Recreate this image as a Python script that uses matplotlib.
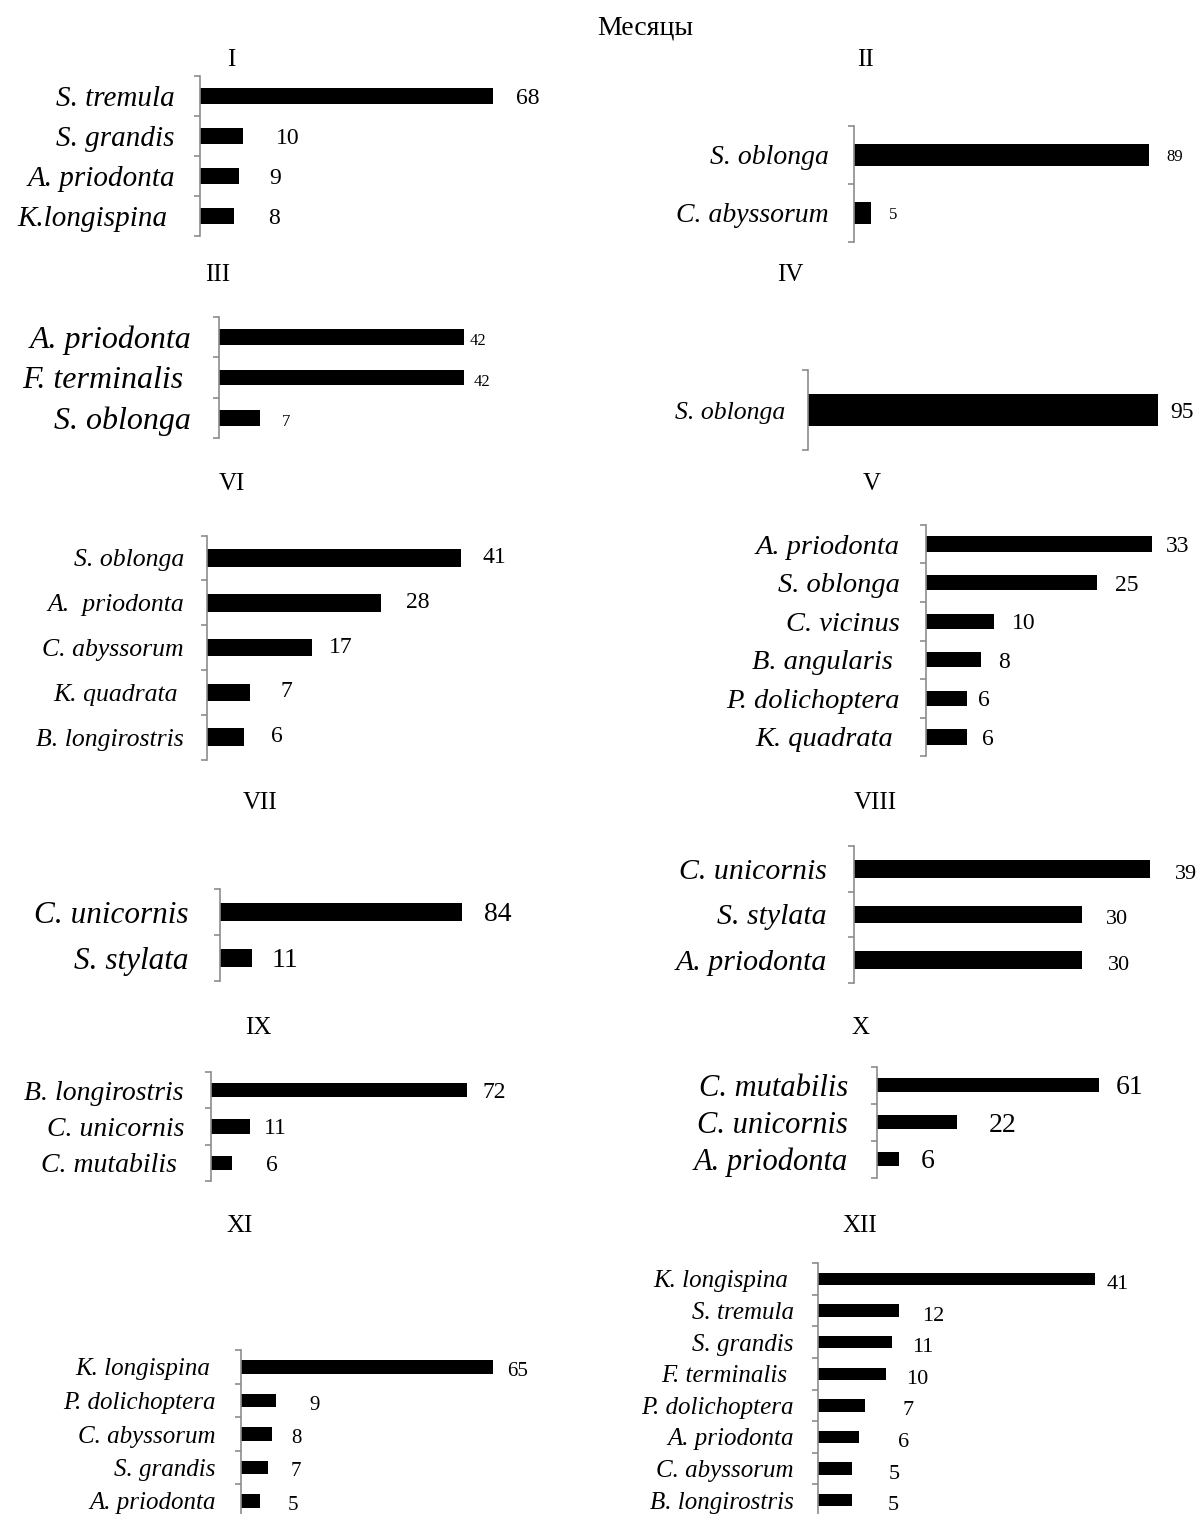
# Доминирующие виды зоопланктона по месяцам (горизонтальные столбцы)
import matplotlib
matplotlib.use('Agg')
import matplotlib.pyplot as plt

plt.rcParams['font.family'] = ['Liberation Serif', 'DejaVu Serif']

W, H = 1200, 1514
main_title = 'Месяцы'

# данные по месяцам: виды и доли, %
sp_I = ['S. tremula', 'S. grandis', 'A. priodonta', 'K.longispina ']
val_I = [68, 10, 9, 8]
sp_II = ['S. oblonga', 'C. abyssorum']
val_II = [89, 5]
sp_III = ['A. priodonta', 'F. terminalis ', 'S. oblonga']
val_III = [42, 42, 7]
sp_IV = ['S. oblonga']
val_IV = [95]
sp_VI = ['S. oblonga', 'A.  priodonta', 'C. abyssorum', 'K. quadrata ', 'B. longirostris']
val_VI = [41, 28, 17, 7, 6]
sp_V = ['A. priodonta', 'S. oblonga', 'C. vicinus', 'B. angularis ', 'P. dolichoptera', 'K. quadrata ']
val_V = [33, 25, 10, 8, 6, 6]
sp_VII = ['C. unicornis', 'S. stylata']
val_VII = [84, 11]
sp_VIII = ['C. unicornis', 'S. stylata', 'A. priodonta']
val_VIII = [39, 30, 30]
sp_IX = ['B. longirostris', 'C. unicornis', 'C. mutabilis ']
val_IX = [72, 11, 6]
sp_X = ['C. mutabilis', 'C. unicornis', 'A. priodonta']
val_X = [61, 22, 6]
sp_XI = ['K. longispina ', 'P. dolichoptera', 'C. abyssorum', 'S. grandis', 'A. priodonta']
val_XI = [65, 9, 8, 7, 5]
sp_XII = ['K. longispina ', 'S. tremula', 'S. grandis', 'F. terminalis ', 'P. dolichoptera',
          'A. priodonta', 'C. abyssorum', 'B. longirostris']
val_XII = [41, 12, 11, 10, 7, 6, 5, 5]

# оформление: ось x, центр первого столбца, шаг, пикс. на единицу, шрифты, отступы (в пикселях)
panels = [
    dict(t='I', tx=231, ty=60, names=sp_I, vals=val_I, x0=200, yc=96, step=40, ppu=4.31,
         fn=21, fv=17, pad=25, gap=[23, 33, 30, 34], dy=0),
    dict(t='II', tx=865, ty=60, names=sp_II, vals=val_II, x0=854, yc=155, step=58, ppu=3.31,
         fn=20, fv=12, pad=25, gap=[18, 18], dy=0),
    dict(t='III', tx=218, ty=275, names=sp_III, vals=val_III, x0=219, yc=337, step=40.5, ppu=5.83,
         fn=23, fv=12, pad=28, gap=[6, 10, 22], dy=2),
    dict(t='IV', tx=790, ty=275, names=sp_IV, vals=val_IV, x0=808, yc=410, step=80, ppu=3.68,
         fn=18.5, fv=17, pad=23, gap=[13], dy=0),
    dict(t='VI', tx=232, ty=484, names=sp_VI, vals=val_VI, x0=207, yc=558, step=44.8, ppu=6.2,
         fn=18.5, fv=17, pad=23, gap=[21, 25, 17, 30, 27], dy=-3),
    dict(t='V', tx=872, ty=484, names=sp_V, vals=val_V, x0=926, yc=544, step=38.6, ppu=6.85,
         fn=20.5, fv=17, pad=26, gap=[14, 18, 17, 17, 11, 15], dy=0),
    dict(t='VII', tx=260, ty=803, names=sp_VII, vals=val_VII, x0=220, yc=912, step=46, ppu=2.88,
         fn=22.5, fv=20, pad=31, gap=[22, 20], dy=0),
    dict(t='VIII', tx=875, ty=803, names=sp_VIII, vals=val_VIII, x0=854, yc=869, step=45.5, ppu=7.6,
         fn=21.5, fv=16, pad=27, gap=[25, 24, 26], dy=3),
    dict(t='IX', tx=258, ty=1028, names=sp_IX, vals=val_IX, x0=211, yc=1090, step=36.5, ppu=3.56,
         fn=20, fv=17, pad=27, gap=[15, 14, 34], dy=0),
    dict(t='X', tx=860, ty=1028, names=sp_X, vals=val_X, x0=877, yc=1085, step=37, ppu=3.64,
         fn=22, fv=20, pad=29, gap=[17, 32, 22], dy=0),
    dict(t='XI', tx=240, ty=1226, names=sp_XI, vals=val_XI, x0=241, yc=1367, step=33.5, ppu=3.88,
         fn=18, fv=15, pad=25, gap=[14, 33, 19, 22, 27], dy=2),
    dict(t='XII', tx=860, ty=1226, names=sp_XII, vals=val_XII, x0=818, yc=1279, step=31.6, ppu=6.76,
         fn=18, fv=16, pad=24, gap=[11, 23, 20, 21, 37, 39, 37, 36], dy=3),
]

PT = 72 / 100  # пиксели -> пункты при dpi=100


def draw_panel(fig, p):
    n = len(p['vals'])
    top = p['yc'] - p['step'] / 2
    hgt = p['step'] * n
    xmax = max(p['vals'])
    wid = xmax * p['ppu']
    ax = fig.add_axes([p['x0'] / W, 1 - (top + hgt) / H, wid / W, hgt / H])
    ax.barh(range(n), p['vals'], height=0.39, color='black')
    ax.set_xlim(0, xmax)
    ax.set_ylim(n - 0.5, -0.5)
    for s in ['top', 'right', 'bottom']:
        ax.spines[s].set_visible(False)
    ax.spines['left'].set_color('#8c8c8c')
    ax.spines['left'].set_linewidth(1.2)
    ax.set_xticks([])
    ax.set_yticks(range(n))
    ax.set_yticklabels(p['names'], fontsize=p['fn'], fontstyle='italic')
    ax.set_yticks([i - 0.5 for i in range(n + 1)], minor=True)
    ax.tick_params(axis='y', which='major', length=0, pad=p['pad'] * PT)
    ax.tick_params(axis='y', which='minor', length=6 * PT, width=1.2, color='#8c8c8c')
    ax.patch.set_alpha(0)
    for i, v in enumerate(p['vals']):
        ax.annotate(str(v), xy=(v, i), xytext=(p['gap'][i] * PT, -p['dy'] * PT),
                    textcoords='offset points', ha='left', va='center_baseline',
                    fontsize=p['fv'], annotation_clip=False)
    fig.text(p['tx'] / W, 1 - p['ty'] / H, p['t'], ha='center', va='center', fontsize=18)


fig = plt.figure(figsize=(12, 15.14), dpi=100)
fig.text(645 / W, 1 - 28 / H, main_title, ha='center', va='center', fontsize=20)
for p in panels:
    draw_panel(fig, p)

fig.savefig('out.png', dpi=100)
